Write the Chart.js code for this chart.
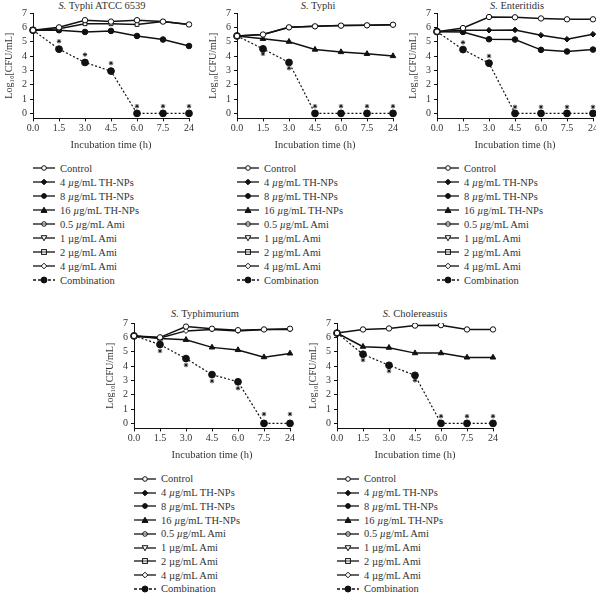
<!DOCTYPE html>
<html>
<head>
<meta charset="utf-8">
<script src="https://cdn.jsdelivr.net/npm/chart.js@4.4.1/dist/chart.umd.min.js"></script>
<style>
  body { margin: 0; background: #fff; width: 596px; height: 593px; position: relative; overflow: hidden;
         font-family: "Liberation Serif", "DejaVu Serif", serif; color: #333; }
  .cv { position: absolute; }
  .ttl { position: absolute; font-size: 10.5px; transform: translateX(-50%); white-space: nowrap; }
  .leg { position: absolute; font-size: 10.5px; }
  .leg div { display: flex; align-items: center; white-space: nowrap; }
  .leg svg { margin-right: 5px; flex: none; }
</style>
</head>
<body>
<script>
// x categories and y ticks shared by every panel
const hours = ['0.0', '1.5', '3.0', '4.5', '6.0', '7.5', '24'];
const yTicks = [0, 1, 2, 3, 4, 5, 6, 7];

const legendLabels = ['Control', '4 <i>µ</i>g/mL TH-NPs', '8 <i>µ</i>g/mL TH-NPs', '16 <i>µ</i>g/mL TH-NPs',
  '0.5 <i>µ</i>g/mL Ami', '1 µg/mL Ami', '2 µg/mL Ami', '4 µg/mL Ami', 'Combination'];
const legendKeys = ['control', 'th4', 'th8', 'th16', 'ami05', 'ami1', 'ami2', 'ami4', 'combo'];

// S. Typhi ATCC 6539
const atccControl = [5.8, 6.0, 6.5, 6.4, 6.5, 6.4, 6.2];
const atccAmi2    = [5.8, 5.9, 6.25, 6.25, 6.2, 6.4, 6.2];
const atccTh8     = [5.8, 5.8, 5.68, 5.75, 5.4, 5.15, 4.7];
const atccCombo   = [5.8, 4.48, 3.55, 2.95, 0, 0, 0];
const atccStar    = [null, 0.55, 0.55, 0.55, 0.5, 0.5, 0.5];

// S. Typhi
const typhiControl = [5.4, 5.5, 6.0, 6.07, 6.12, 6.14, 6.18];
const typhiTh16    = [5.4, 5.2, 5.0, 4.45, 4.28, 4.15, 4.0];
const typhiCombo   = [5.4, 4.5, 3.55, 0, 0, 0, 0];
const typhiStar    = [null, -0.35, -0.4, 0.5, 0.5, 0.5, 0.5];

// S. Enteritidis
const entControl = [5.7, 5.95, 6.72, 6.7, 6.62, 6.56, 6.56];
const entTh4     = [5.7, 5.8, 5.8, 5.82, 5.45, 5.17, 5.52];
const entTh8     = [5.7, 5.68, 5.17, 5.15, 4.43, 4.32, 4.45];
const entCombo   = [5.7, 4.45, 3.5, 0, 0, 0, 0];
const entStar    = [null, 0.5, 0.5, 0.45, 0.45, 0.45, 0.45];

// S. Typhimurium
const tmControl = [6.1, 6.0, 6.75, 6.6, 6.5, 6.55, 6.6];
const tmAmi4    = [6.1, 5.95, 6.45, 6.55, 6.45, 6.55, 6.55];
const tmTh16    = [6.1, 5.92, 5.83, 5.3, 5.12, 4.62, 4.88];
const tmCombo   = [6.1, 5.5, 4.52, 3.4, 2.9, 0, 0];
const tmStar    = [null, -0.45, -0.45, -0.45, -0.45, 0.65, 0.65];

// S. Cholereasuis
const chControl = [6.3, 6.55, 6.62, 6.82, 6.85, 6.55, 6.55];
const chTh16    = [6.3, 5.35, 5.28, 4.9, 4.9, 4.6, 4.6];
const chCombo   = [6.3, 4.82, 4.05, 3.35, 0, 0, 0];
const chStar    = [null, -0.4, -0.4, -0.35, 0.5, 0.5, 0.5];

const INK = '#111';
const TXT = '#333';
const styles = {
  control: { pointStyle: 'circle', fill: '#fff', r: 2.7 },
  th4:     { pointStyle: 'rectRot', fill: INK, r: 2.8 },
  th8:     { pointStyle: 'circle', fill: INK, r: 2.8 },
  th16:    { pointStyle: 'triangle', fill: INK, r: 3.2 },
  ami05:   { pointStyle: 'circle', fill: '#fff', r: 2.7 },
  ami1:    { pointStyle: 'triangle', rot: 180, fill: '#fff', r: 2.8 },
  ami2:    { pointStyle: 'rect', fill: '#fff', r: 2.7 },
  ami4:    { pointStyle: 'rectRot', fill: '#fff', r: 2.6 },
  combo:   { pointStyle: 'circle', fill: INK, r: 3.4, dash: [2, 2] }
};

const panels = [
  { title: '<i>S.</i> Typhi ATCC 6539', tx: 102, ty: 0, left: 3, top: 4, legTop: 161, row: 14,
    series: [['control', atccControl], ['ami2', atccAmi2], ['th8', atccTh8], ['combo', atccCombo]],
    combo: atccCombo, star: atccStar },
  { title: '<i>S.</i> Typhi', tx: 318, ty: 0, left: 207, top: 4, legTop: 161, row: 14,
    series: [['control', typhiControl], ['ami1', typhiControl], ['th16', typhiTh16], ['combo', typhiCombo]],
    combo: typhiCombo, star: typhiStar },
  { title: '<i>S.</i> Enteritidis', tx: 517, ty: 0, left: 407, top: 4, legTop: 161, row: 14,
    series: [['control', entControl], ['th4', entTh4], ['th8', entTh8], ['combo', entCombo]],
    combo: entCombo, star: entStar },
  { title: '<i>S.</i> Typhimurium', tx: 205, ty: 308, left: 104, top: 314, legTop: 472, row: 13.75,
    series: [['control', tmControl], ['ami4', tmAmi4], ['th16', tmTh16], ['combo', tmCombo]],
    combo: tmCombo, star: tmStar },
  { title: '<i>S.</i> Cholereasuis', tx: 415, ty: 308, left: 307, top: 314, legTop: 472, row: 13.75,
    series: [['control', chControl], ['th16', chTh16], ['combo', chCombo]],
    combo: chCombo, star: chStar }
];

const FONT = { family: '"Liberation Serif", "DejaVu Serif", serif', size: 10 };

function iconSvg(key) {
  const s = styles[key];
  const dash = s.dash ? ' stroke-dasharray="3,2"' : '';
  let m;
  const f = s.fill, cx = 11, cy = 5;
  if (s.pointStyle === 'circle') m = `<circle cx="${cx}" cy="${cy}" r="${s.r - 0.4}" fill="${f}" stroke="${INK}" stroke-width="1"/>`;
  else if (s.pointStyle === 'rect') m = `<rect x="${cx - 2.4}" y="${cy - 2.4}" width="4.8" height="4.8" fill="${f}" stroke="${INK}"/>`;
  else if (s.pointStyle === 'rectRot') m = `<path d="M${cx} ${cy - 2.8}L${cx + 2.8} ${cy}L${cx} ${cy + 2.8}L${cx - 2.8} ${cy}Z" fill="${f}" stroke="${INK}"/>`;
  else if (s.rot) m = `<path d="M${cx - 2.8} ${cy - 2.3}L${cx + 2.8} ${cy - 2.3}L${cx} ${cy + 2.8}Z" fill="${f}" stroke="${INK}"/>`;
  else m = `<path d="M${cx - 3} ${cy + 2.4}L${cx + 3} ${cy + 2.4}L${cx} ${cy - 2.8}Z" fill="${f}" stroke="${INK}"/>`;
  const through = (key === 'ami05' || key === 'ami2')
    ? `<line x1="${cx - 2.5}" y1="${cy}" x2="${cx + 2.5}" y2="${cy}" stroke="${INK}" stroke-width="0.8"/>` : '';
  return `<svg width="22" height="10"><line x1="0" y1="5" x2="22" y2="5" stroke="${INK}" stroke-width="1.3"${dash}/>${m}${through}</svg>`;
}

panels.forEach(p => {
  const t = document.createElement('div');
  t.className = 'ttl';
  t.style.left = p.tx + 'px';
  t.style.top = p.ty + 'px';
  t.innerHTML = p.title;
  document.body.appendChild(t);

  const cv = document.createElement('canvas');
  cv.className = 'cv';
  cv.width = 194; cv.height = 148;
  cv.style.left = p.left + 'px';
  cv.style.top = p.top + 'px';
  document.body.appendChild(cv);

  const datasets = p.series.map(([key, data]) => {
    const s = styles[key];
    return {
      data: data,
      borderColor: INK,
      borderWidth: key === 'combo' ? 1.2 : 1.5,
      borderDash: s.dash || [],
      pointStyle: s.pointStyle,
      rotation: s.rot || 0,
      pointRadius: s.r,
      pointBackgroundColor: s.fill,
      pointBorderColor: INK,
      pointBorderWidth: 1,
      tension: 0
    };
  });
  // significance asterisks, placed relative to the combination curve
  datasets.push({
    data: p.combo.map((v, i) => p.star[i] === null ? null : v + p.star[i]),
    showLine: false,
    pointStyle: 'star',
    pointRadius: 2.2,
    pointBorderColor: INK,
    pointBorderWidth: 0.9
  });

  const axisGrid = { display: true, drawOnChartArea: false, drawTicks: true, tickLength: 3, tickColor: INK, color: INK };
  new Chart(cv, {
    type: 'line',
    data: { labels: hours, datasets: datasets },
    options: {
      responsive: false,
      animation: false,
      events: [],
      layout: { padding: { top: 0, right: 8, left: 0, bottom: 0 } },
      plugins: { legend: { display: false }, tooltip: { enabled: false } },
      scales: {
        x: {
          grid: axisGrid,
          border: { color: INK, width: 1 },
          ticks: { color: TXT, font: FONT, padding: 1, maxRotation: 0, autoSkip: false },
          title: { display: true, text: 'Incubation time (h)', color: TXT, font: { ...FONT, size: 10.5 }, padding: { top: 4, bottom: 0 } }
        },
        y: {
          min: -0.35, max: 7,
          afterBuildTicks: s => { s.ticks = yTicks.map(v => ({ value: v })); },
          afterFit: s => { s.width = 30; },
          grid: axisGrid,
          border: { color: INK, width: 1 },
          ticks: { color: TXT, font: FONT, padding: 3 },
          title: { display: true, text: 'Log₁₀[CFU/mL]', color: TXT, font: { ...FONT, size: 10 }, padding: 0 }
        }
      }
    }
  });

  const leg = document.createElement('div');
  leg.className = 'leg';
  leg.style.left = (p.left + 30) + 'px';
  leg.style.top = p.legTop + 'px';
  leg.innerHTML = legendKeys.map((k, i) =>
    `<div style="height:${p.row}px">${iconSvg(k)}<span>${legendLabels[i]}</span></div>`).join('');
  document.body.appendChild(leg);
});
</script>
</body>
</html>
